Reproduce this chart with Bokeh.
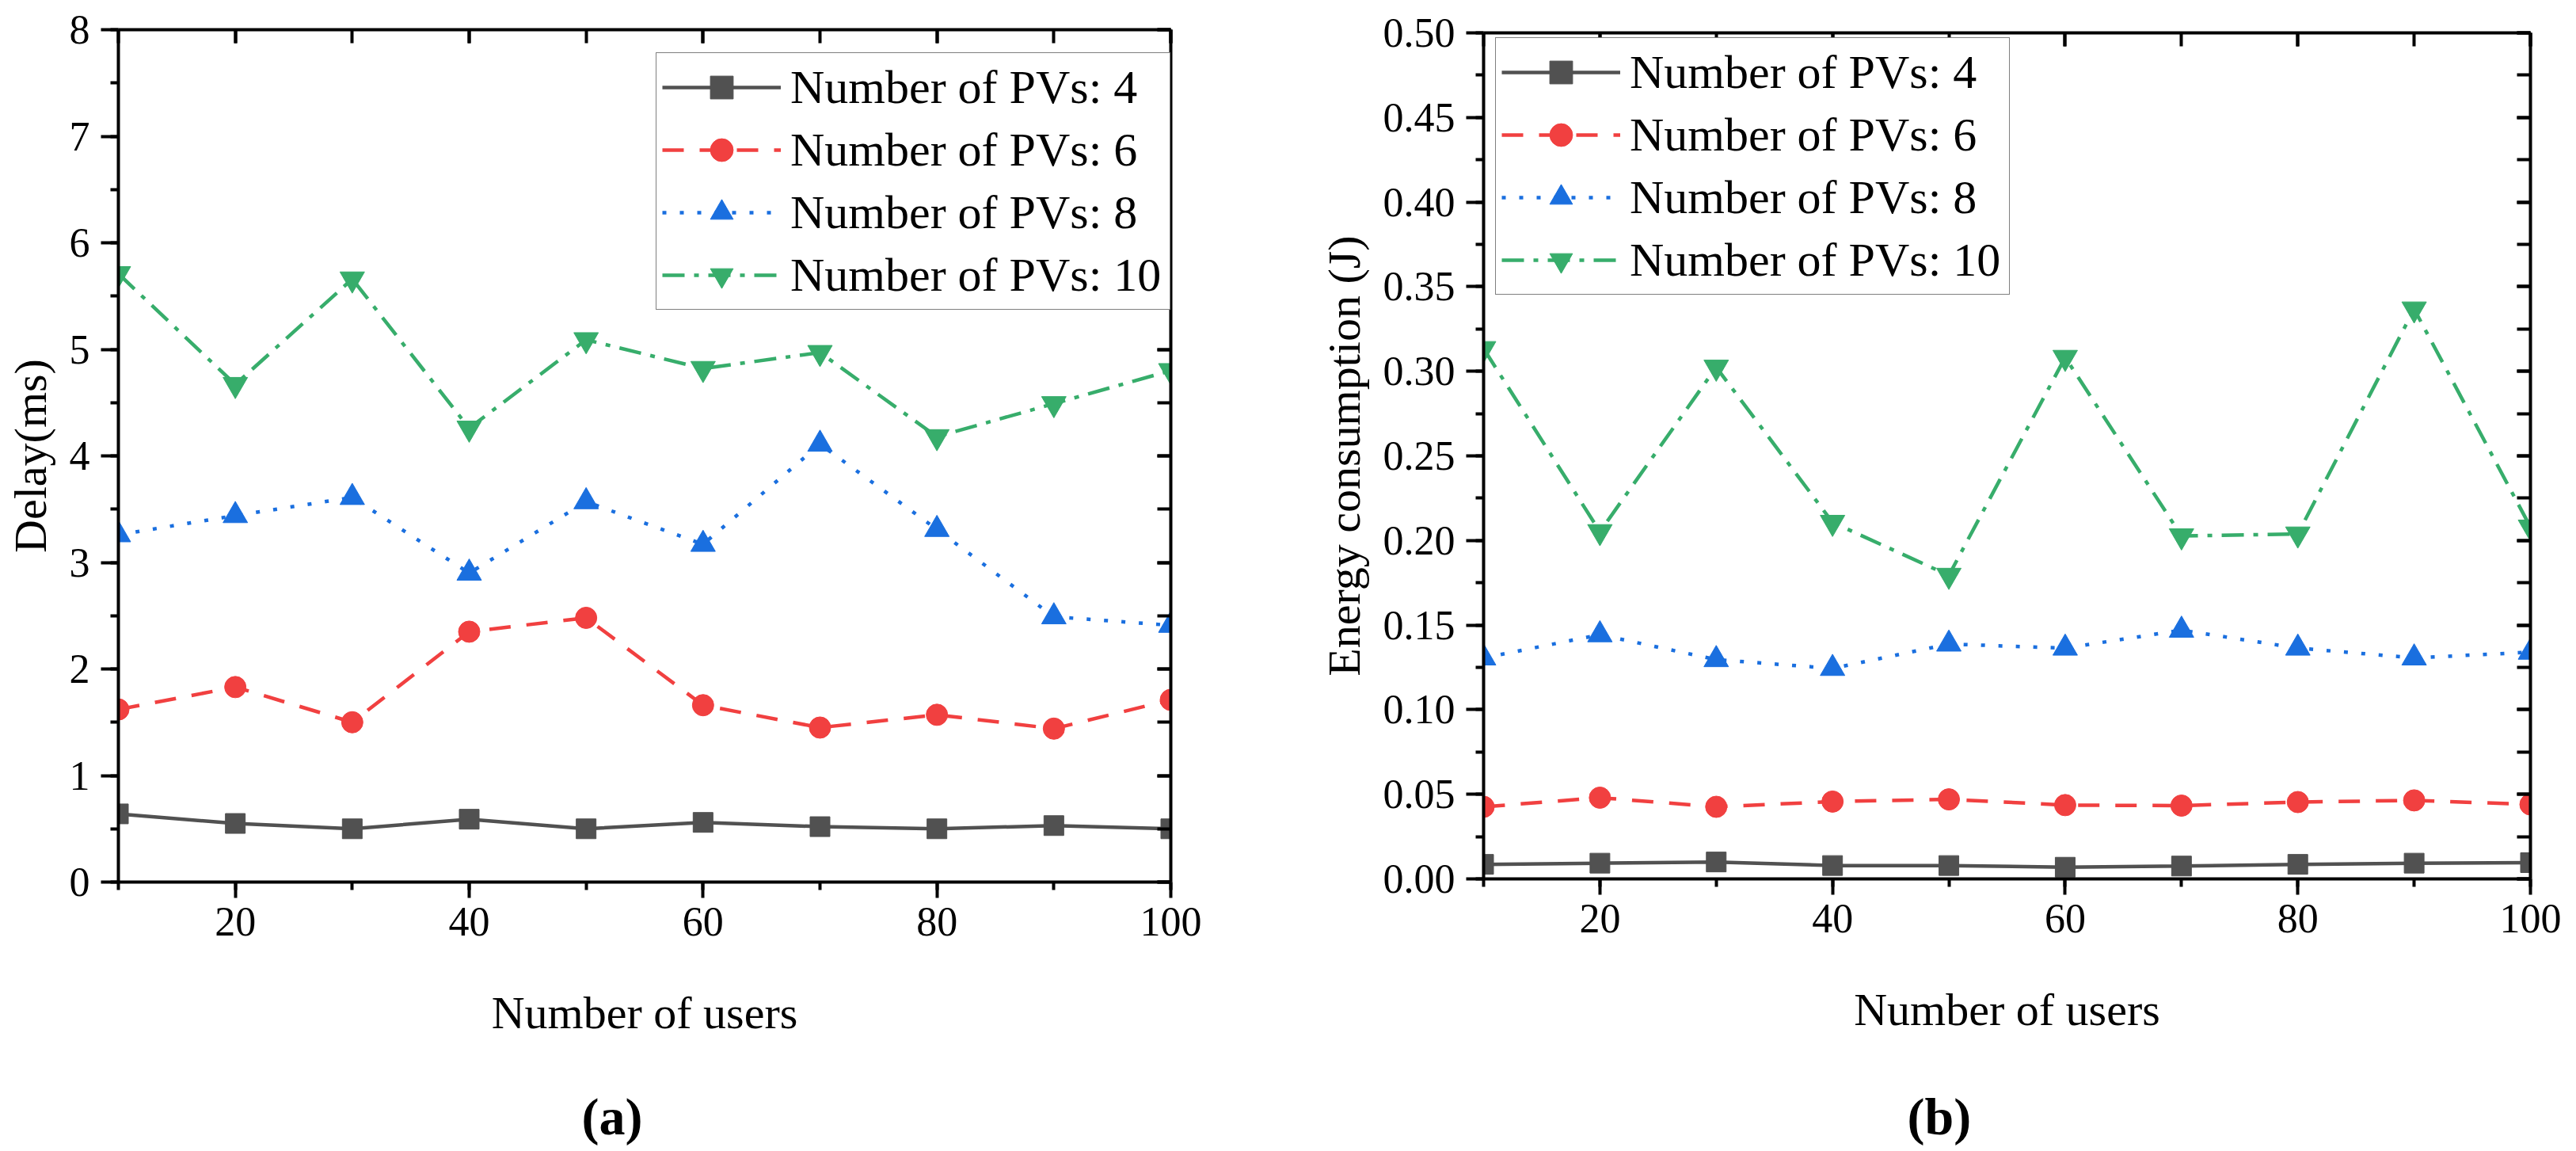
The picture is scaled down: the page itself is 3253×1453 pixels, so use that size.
from bokeh.plotting import figure
from bokeh.models import (Range1d, LinearAxis, SingleIntervalTicker, Legend, LegendItem,
                          Title, CustomJSTickFormatter, PrintfTickFormatter)
from bokeh.layouts import row, column
from bokeh.embed import file_html
from bokeh.resources import INLINE

# ---------------- data ----------------
users = [10, 20, 30, 40, 50, 60, 70, 80, 90, 100]
series_labels = ["Number of PVs: 4", "Number of PVs: 6", "Number of PVs: 8", "Number of PVs: 10"]

delay_pv4 = [0.64, 0.55, 0.50, 0.59, 0.50, 0.56, 0.52, 0.50, 0.53, 0.50]
delay_pv6 = [1.62, 1.83, 1.50, 2.35, 2.48, 1.66, 1.45, 1.57, 1.44, 1.71]
delay_pv8 = [3.26, 3.44, 3.61, 2.90, 3.57, 3.17, 4.11, 3.31, 2.49, 2.41]
delay_pv10 = [5.71, 4.67, 5.66, 4.26, 5.09, 4.82, 4.97, 4.18, 4.49, 4.80]

energy_pv4 = [0.0086, 0.0093, 0.0100, 0.0079, 0.0079, 0.0069, 0.0076, 0.0086, 0.0093, 0.0096]
energy_pv6 = [0.0426, 0.0480, 0.0426, 0.0457, 0.0470, 0.0436, 0.0433, 0.0454, 0.0464, 0.0440]
energy_pv8 = [0.1306, 0.1443, 0.1296, 0.1244, 0.1388, 0.1364, 0.1470, 0.1364, 0.1306, 0.1340]
energy_pv10 = [0.3134, 0.2052, 0.3024, 0.2107, 0.1794, 0.3082, 0.2027, 0.2038, 0.3368, 0.2079]

colors = ["#515151", "#F14040", "#1A6FDF", "#37AD6B"]
markers = ["square", "circle", "triangle", "inverted_triangle"]
marker_sizes = [25, 27, 31, 31]
dashes = ["solid", "27 20", "5 17", "28 12 6 12"]

FONT = "Liberation Serif"
PLOT_H = 1353
CAP_H = 100


def make_panel(ys, ymax, yint, yfmt, ylabel, frame, borders, legend_loc):
    fw, fh = frame
    bl, br, bt = borders
    p = figure(frame_width=fw, frame_height=fh,
               min_border_left=bl, min_border_right=br,
               min_border_top=bt, min_border_bottom=PLOT_H - bt - fh,
               x_range=Range1d(10, 100), y_range=Range1d(0, ymax),
               output_backend="svg", toolbar_location=None,
               background_fill_color="white", border_fill_color="white")
    p.outline_line_color = None
    p.grid.visible = False

    xa = p.xaxis[0]
    xa.ticker = SingleIntervalTicker(interval=20, num_minor_ticks=2)
    ya = p.yaxis[0]
    ya.ticker = SingleIntervalTicker(interval=yint, num_minor_ticks=2)
    ya.formatter = PrintfTickFormatter(format=yfmt)

    for ax, tout_major, tout_minor in ((xa, 20, 10), (ya, 22, 10)):
        ax.axis_line_width = 4
        ax.axis_line_color = "black"
        ax.major_tick_line_width = 4
        ax.minor_tick_line_width = 4
        ax.major_tick_in = 0
        ax.major_tick_out = tout_major
        ax.minor_tick_in = 0
        ax.minor_tick_out = tout_minor
        ax.major_label_text_font = FONT
        ax.major_label_text_font_size = "52px"
        ax.major_label_text_color = "black"
        ax.axis_label_text_font = FONT
        ax.axis_label_text_font_size = "58px"
        ax.axis_label_text_font_style = "normal"
        ax.axis_label_text_color = "black"
    xa.major_label_standoff = 12
    ya.major_label_standoff = 14
    xa.axis_label = "Number of users"
    xa.axis_label_standoff = 62
    ya.axis_label = ylabel
    ya.axis_label_standoff = 14

    # mirrored axes (top and right) with inward ticks only
    top = LinearAxis(ticker=SingleIntervalTicker(interval=20, num_minor_ticks=2))
    right = LinearAxis(ticker=SingleIntervalTicker(interval=yint, num_minor_ticks=2))
    for ax in (top, right):
        ax.formatter = CustomJSTickFormatter(code="return ''")
        ax.major_label_text_font_size = "1px"
        ax.major_label_standoff = 0
        ax.axis_line_width = 4
        ax.axis_line_color = "black"
        ax.major_tick_line_width = 4
        ax.minor_tick_line_width = 4
        ax.major_tick_in = 17
        ax.major_tick_out = 0
        ax.minor_tick_in = 17
        ax.minor_tick_out = 0
    p.add_layout(top, "above")
    p.add_layout(right, "right")

    items = []
    for i in range(4):
        ln = p.line(users, ys[i], line_color=colors[i], line_width=4.5, line_dash=dashes[i])
        sc = p.scatter(users, ys[i], marker=markers[i], size=marker_sizes[i],
                       fill_color=colors[i], line_color=colors[i])
        items.append(LegendItem(label=series_labels[i], renderers=[ln, sc]))

    leg = Legend(items=items, location=legend_loc,
                 border_line_color="black", border_line_width=1.5,
                 background_fill_color="white", background_fill_alpha=1.0,
                 padding=7, spacing=7, margin=0,
                 glyph_width=150, glyph_height=72, label_standoff=12,
                 label_width=472, label_height=72,
                 label_text_font=FONT, label_text_font_size="60px",
                 label_text_color="black")
    p.add_layout(leg)
    return p


def make_caption(tag, width, left_offset):
    c = figure(width=width, height=CAP_H, min_border=0,
               x_axis_location=None, y_axis_location=None,
               output_backend="svg", toolbar_location=None,
               background_fill_color="white", border_fill_color="white")
    c.outline_line_color = None
    c.grid.visible = False
    t = Title(text=tag, align="left", offset=left_offset, text_font=FONT,
              text_font_size="66px", text_font_style="bold", text_color="black",
              standoff=34)
    c.add_layout(t, "below")
    return c


p1 = make_panel([delay_pv4, delay_pv6, delay_pv8, delay_pv10], 8, 1, "%d", "Delay(ms)",
                (1329, 1076), (149, 122, 37), (679, 722))
p2 = make_panel([energy_pv4, energy_pv6, energy_pv8, energy_pv10], 0.5, 0.05, "%.2f",
                "Energy consumption (J)",
                (1322, 1068), (273, 58, 41), (15, 737))
c1 = make_caption("(a)", 1600, 585)
c2 = make_caption("(b)", 1653, 535)

layout = row(column(p1, c1, spacing=0), column(p2, c2, spacing=0), spacing=0)
open("out.html", "w").write(file_html(layout, INLINE))
